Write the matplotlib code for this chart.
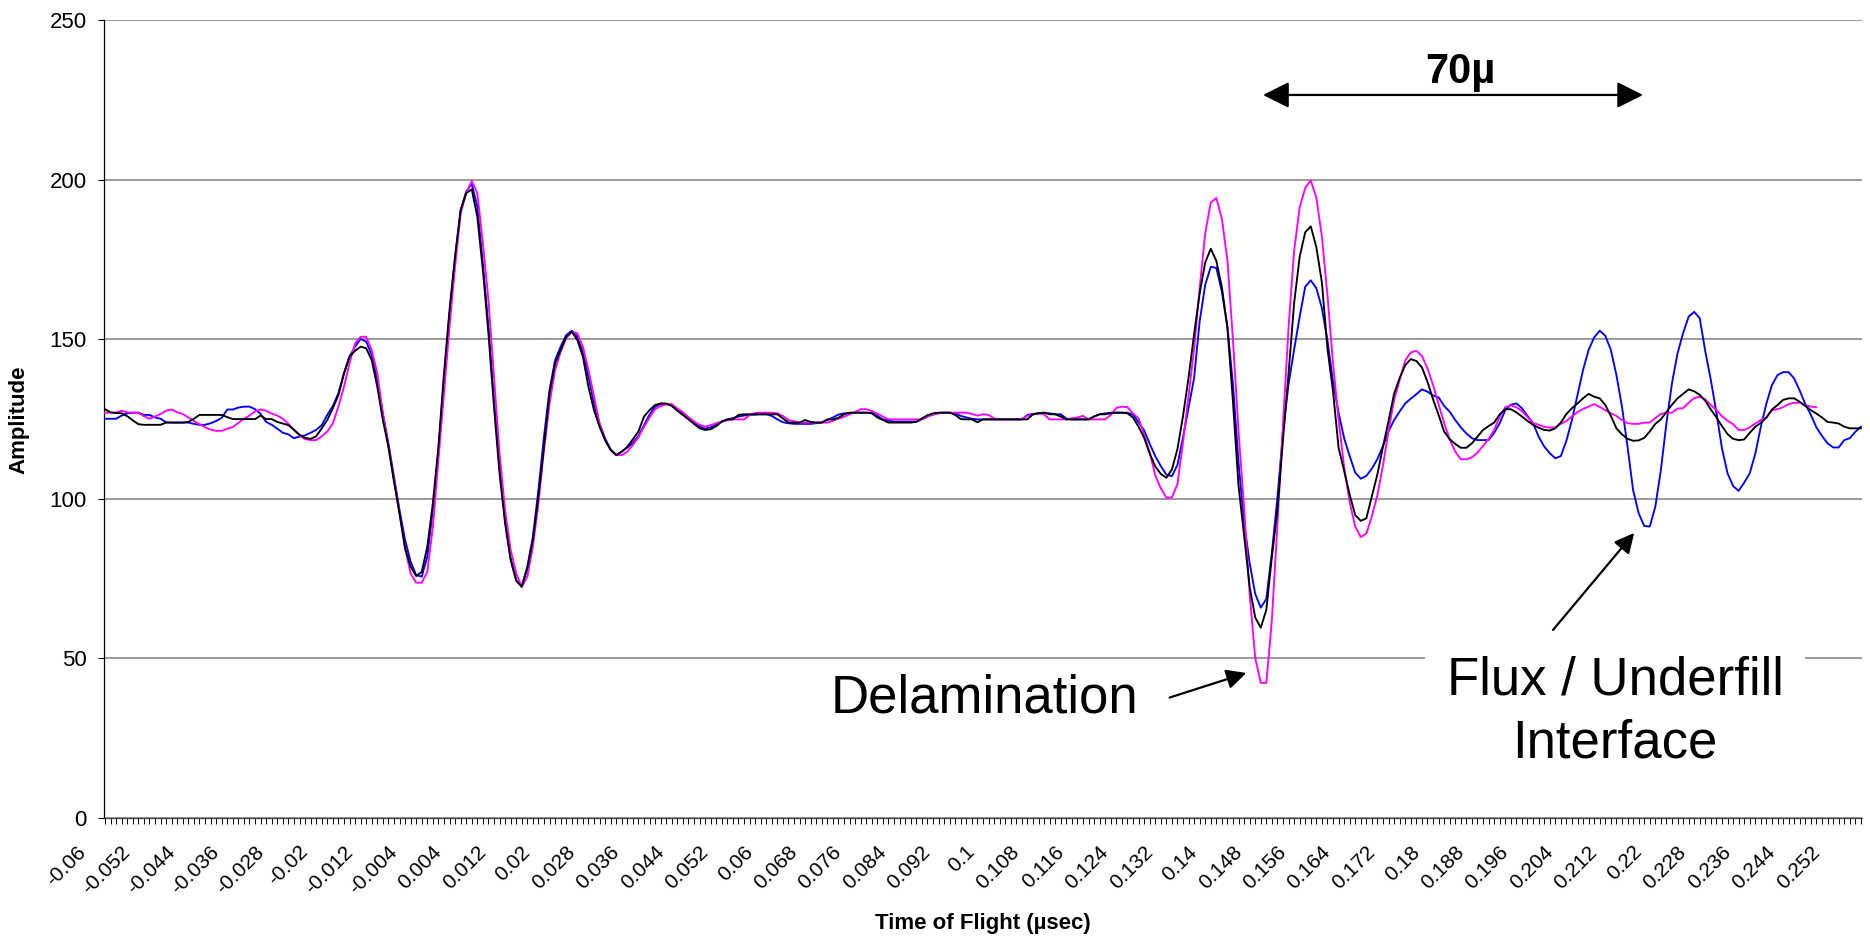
import matplotlib
matplotlib.use('Agg')
import matplotlib.pyplot as pl
import matplotlib.transforms as mtransforms
from matplotlib.patches import Rectangle
import numpy as np

# amplitude per time step (0.001 usec per category, first category -0.06)
black = [
    128.0, 127.0, 126.8, 126.7, 125.8, 124.5, 123.3, 123.1, 123.1, 123.1,
    123.1, 123.8, 123.8, 123.8, 123.8, 124.0, 125.0, 126.2, 126.2, 126.2,
    126.2, 126.2, 125.5, 124.9, 124.9, 124.9, 124.9, 124.9, 126.0, 124.9,
    124.9, 124.0, 123.5, 123.0, 121.5, 120.0, 119.0, 118.7, 119.5, 122.0,
    124.6, 128.3, 132.4, 139.2, 144.5, 146.3, 147.6, 147.1, 143.4, 135.0,
    124.6, 116.2, 105.3, 95.3, 84.4, 78.6, 75.7, 77.0, 84.9, 98.5,
    116.2, 139.2, 159.1, 175.8, 190.4, 195.7, 196.9, 188.3, 171.6, 151.8,
    128.8, 107.9, 92.2, 80.7, 74.2, 72.3, 78.1, 87.0, 100.6, 116.2,
    133.0, 142.4, 146.5, 150.7, 152.3, 149.7, 144.5, 135.0, 127.7, 122.5,
    118.3, 115.2, 113.6, 114.7, 116.2, 118.6, 121.0, 125.7, 127.7, 129.3,
    129.8, 129.8, 129.0, 127.5, 126.2, 124.8, 123.4, 122.0, 121.5, 121.7,
    122.7, 124.1, 124.8, 124.8, 126.2, 126.4, 126.4, 126.4, 126.4, 126.4,
    126.4, 126.4, 125.1, 123.8, 123.8, 123.8, 124.6, 124.0, 123.8, 123.8,
    124.8, 124.8, 125.3, 126.4, 126.9, 126.9, 126.9, 126.9, 126.7, 125.4,
    124.6, 123.8, 123.8, 123.8, 123.8, 123.8, 124.0, 125.1, 126.1, 126.7,
    126.9, 126.9, 126.9, 126.2, 124.9, 124.8, 124.8, 123.9, 124.8, 124.8,
    124.8, 124.8, 124.8, 124.8, 124.8, 124.8, 124.8, 126.4, 126.7, 126.9,
    126.4, 126.4, 125.7, 124.8, 124.8, 124.8, 124.8, 124.8, 125.7, 126.4,
    126.4, 126.7, 126.9, 126.9, 126.7, 125.4, 122.5, 119.1, 114.1, 110.1,
    107.7, 106.5, 109.1, 115.5, 125.8, 137.9, 151.5, 164.3, 174.0, 178.3,
    174.5, 166.2, 153.5, 130.1, 103.9, 88.4, 72.3, 62.7, 59.5, 65.1,
    81.8, 96.4, 118.5, 139.2, 161.2, 175.8, 183.5, 185.3, 178.8, 167.7,
    147.0, 133.6, 115.9, 108.7, 101.2, 94.8, 93.0, 93.8, 100.7, 107.7,
    116.3, 124.4, 132.9, 137.8, 141.8, 143.7, 143.1, 141.1, 136.6, 131.1,
    126.2, 121.0, 118.6, 117.1, 115.9, 115.9, 117.3, 119.4, 121.5, 122.7,
    123.8, 126.4, 128.0, 128.0, 127.0, 125.7, 124.3, 123.1, 122.2, 121.5,
    121.3, 122.0, 123.8, 126.5, 128.3, 129.8, 131.4, 132.8, 131.9, 131.4,
    129.3, 125.9, 122.0, 120.1, 118.7, 118.1, 118.2, 119.0, 121.0, 123.4,
    124.8, 127.1, 129.4, 131.4, 132.8, 134.2, 133.6, 132.5, 130.6, 127.9,
    125.4, 122.7, 120.2, 118.7, 118.3, 118.5, 120.6, 122.5, 123.7, 125.4,
    127.9, 129.3, 130.9, 131.4, 131.4, 130.3, 129.0, 127.7, 126.6, 125.4,
    124.0, 123.8, 123.5, 122.5, 122.0, 122.0, 122.0,
]

blue = [
    125.0, 125.0, 125.0, 126.0, 126.7, 126.9, 126.9, 126.2, 126.2, 125.4,
    125.0, 123.9, 123.8, 123.8, 123.8, 123.8, 123.4, 123.1, 123.1, 123.6,
    124.3, 125.3, 127.9, 127.9, 128.5, 128.8, 128.8, 128.0, 126.5, 124.0,
    123.1, 121.9, 120.6, 120.1, 118.9, 119.4, 119.8, 120.6, 121.5, 123.0,
    126.2, 129.0, 133.0, 139.2, 144.5, 147.6, 150.0, 149.2, 145.0, 137.1,
    126.7, 117.3, 106.8, 96.4, 87.0, 80.2, 76.0, 75.5, 81.8, 96.4,
    115.2, 137.1, 158.0, 175.8, 190.4, 196.2, 198.6, 191.5, 173.7, 153.9,
    130.9, 110.0, 93.2, 81.2, 74.4, 72.5, 78.6, 88.0, 102.7, 119.4,
    134.0, 143.4, 147.6, 151.2, 152.6, 150.7, 146.0, 138.2, 129.8, 123.5,
    118.8, 115.4, 113.6, 114.7, 116.0, 117.5, 119.6, 123.0, 126.3, 128.8,
    129.7, 129.6, 129.2, 128.1, 126.8, 125.4, 124.1, 122.5, 121.9, 122.3,
    123.1, 124.2, 124.8, 125.2, 125.7, 126.0, 126.2, 126.3, 126.4, 126.4,
    125.9, 124.8, 123.9, 123.6, 123.4, 123.4, 123.4, 123.4, 123.6, 123.8,
    124.6, 125.4, 126.3, 126.7, 126.8, 126.9, 126.9, 126.9, 126.9, 125.9,
    124.8, 124.4, 124.1, 124.1, 124.1, 124.1, 124.1, 124.8, 125.7, 126.3,
    126.8, 126.9, 126.9, 126.7, 125.9, 125.4, 125.0, 124.8, 124.8, 124.8,
    124.8, 124.8, 124.8, 124.8, 124.8, 124.8, 126.2, 126.5, 126.7, 126.9,
    126.7, 126.4, 126.4, 125.1, 124.8, 124.8, 124.8, 124.8, 125.7, 126.4,
    126.7, 126.9, 126.9, 126.9, 126.9, 126.3, 123.9, 121.4, 117.2, 113.3,
    110.2, 107.5, 107.0, 110.5, 119.2, 128.4, 137.8, 155.5, 167.0, 172.6,
    172.3, 164.8, 153.7, 135.6, 111.1, 92.4, 79.7, 70.1, 65.8, 68.5,
    83.1, 100.3, 120.8, 135.9, 146.7, 157.0, 166.4, 168.4, 165.9, 159.7,
    149.5, 136.6, 126.9, 118.9, 113.3, 108.1, 106.2, 107.1, 109.4, 112.4,
    116.5, 121.1, 124.6, 127.3, 129.8, 131.3, 132.7, 134.2, 133.5, 132.3,
    131.7, 129.0, 127.2, 124.6, 122.3, 120.4, 118.9, 118.3, 118.3, 118.3,
    120.6, 123.6, 127.7, 129.4, 129.8, 128.3, 125.9, 123.6, 119.4, 116.3,
    114.2, 112.6, 113.3, 118.1, 124.6, 132.4, 140.3, 146.6, 150.5, 152.6,
    151.0, 146.6, 138.7, 128.8, 116.3, 102.7, 95.4, 91.4, 91.2, 97.4,
    108.9, 123.6, 136.1, 145.5, 151.8, 157.0, 158.5, 156.5, 146.1, 137.1,
    126.9, 115.7, 107.9, 103.9, 102.4, 105.0, 107.9, 114.1, 122.5, 129.8,
    135.6, 138.7, 139.6, 139.6, 137.6, 133.8, 129.6, 126.2, 122.3, 119.6,
    117.3, 116.0, 116.0, 118.3, 118.9, 120.9, 122.5,
]

magenta = [
    126.9, 126.9, 126.9, 127.5, 127.0, 126.9, 126.9, 125.8, 125.0, 125.7,
    126.5, 127.5, 127.9, 127.0, 126.5, 125.4, 124.3, 123.3, 122.3, 121.6,
    121.2, 121.2, 121.9, 122.4, 123.7, 125.0, 126.0, 127.3, 127.9, 127.5,
    126.6, 126.0, 125.0, 123.4, 121.6, 119.8, 118.6, 118.3, 118.3, 119.5,
    121.0, 123.5, 128.8, 135.0, 142.4, 148.6, 150.7, 150.7, 146.5, 139.2,
    126.7, 116.2, 105.8, 95.3, 84.4, 76.5, 73.6, 73.6, 77.0, 91.2,
    112.1, 133.0, 153.9, 172.7, 189.4, 195.7, 199.6, 195.7, 180.0, 162.2,
    138.2, 114.1, 96.4, 83.9, 76.5, 72.3, 75.5, 84.9, 98.5, 115.2,
    129.8, 140.3, 146.0, 150.2, 152.3, 151.8, 147.6, 140.3, 131.9, 123.5,
    118.3, 115.2, 113.6, 113.6, 114.7, 116.8, 119.2, 122.5, 125.4, 128.0,
    129.0, 129.5, 129.6, 128.2, 127.0, 125.4, 124.1, 123.1, 122.5, 123.0,
    123.6, 124.1, 124.5, 124.8, 124.8, 124.8, 126.1, 126.8, 126.9, 126.9,
    126.9, 126.7, 125.9, 124.6, 124.2, 123.8, 123.8, 123.8, 123.8, 123.8,
    123.8, 124.4, 125.0, 125.6, 126.4, 127.1, 128.0, 128.0, 127.4, 126.6,
    125.7, 124.8, 124.8, 124.8, 124.8, 124.8, 124.8, 124.8, 125.7, 126.4,
    126.7, 126.9, 126.9, 126.9, 126.9, 126.9, 126.5, 126.0, 126.4, 126.2,
    125.1, 124.8, 124.8, 124.8, 124.8, 124.8, 125.9, 126.3, 126.7, 126.4,
    124.8, 124.8, 124.8, 124.8, 125.1, 125.4, 125.9, 124.8, 124.8, 124.8,
    124.8, 126.2, 128.4, 128.8, 128.6, 126.7, 125.1, 120.0, 114.5, 107.3,
    103.2, 100.3, 100.3, 104.5, 117.6, 132.3, 146.9, 165.9, 183.2, 192.8,
    194.2, 187.7, 174.5, 149.5, 120.9, 97.1, 70.0, 50.0, 42.2, 42.2,
    62.0, 92.0, 123.3, 153.7, 177.7, 191.3, 197.4, 199.7, 194.3, 182.1,
    163.7, 142.4, 124.7, 109.8, 98.8, 91.2, 87.9, 89.0, 94.5, 101.2,
    110.5, 121.3, 130.9, 137.2, 143.3, 145.8, 146.3, 144.7, 140.8, 135.6,
    129.5, 123.6, 118.5, 114.7, 112.3, 112.3, 112.9, 114.4, 116.5, 118.6,
    121.5, 125.7, 128.6, 129.2, 128.6, 127.4, 125.5, 123.7, 123.1, 122.5,
    122.2, 122.3, 123.4, 124.3, 125.7, 127.1, 128.1, 128.8, 129.6, 128.7,
    127.7, 126.7, 125.9, 124.6, 123.6, 123.4, 123.4, 123.8, 123.8, 125.2,
    126.5, 126.9, 126.9, 128.2, 128.3, 130.0, 131.5, 131.9, 131.1, 129.3,
    127.7, 125.8, 124.4, 123.3, 121.5, 121.5, 122.3, 123.5, 124.6, 125.4,
    127.7, 128.0, 128.6, 129.6, 130.0, 130.0, 129.3, 128.8, 128.6,
]

tick_labels = [
    '-0.06', '-0.052', '-0.044', '-0.036', '-0.028', '-0.02', '-0.012',
    '-0.004', '0.004', '0.012', '0.02', '0.028', '0.036', '0.044', '0.052',
    '0.06', '0.068', '0.076', '0.084', '0.092', '0.1', '0.108', '0.116',
    '0.124', '0.132', '0.14', '0.148', '0.156', '0.164', '0.172', '0.18',
    '0.188', '0.196', '0.204', '0.212', '0.22', '0.228', '0.236', '0.244',
    '0.252',
]
label_every = 8
y_ticks = [0, 50, 100, 150, 200, 250]


def main():
    pl.rcParams['font.family'] = ['Liberation Sans', 'DejaVu Sans']

    fig = pl.figure(figsize=(18.7, 9.38), dpi=100)
    W, H = 1870.0, 938.0
    ax = fig.add_axes([104.3 / W, (H - 817.5) / H, 1757.7 / W, 797.5 / H])

    ax.plot(np.arange(len(blue)), blue, color='#0000ff', lw=1.35, zorder=3)
    ax.plot(np.arange(len(magenta)), magenta, color='#ff00ff', lw=1.35, zorder=4)
    ax.plot(np.arange(len(black)), black, color='black', lw=1.35, zorder=5)

    ax.set_xlim(-0.13, 316.2)
    ax.set_ylim(0, 250)

    ax.set_yticks(y_ticks)
    ax.set_yticklabels([str(v) for v in y_ticks], fontsize=16)
    ax.yaxis.grid(True, color='#808080', lw=1.1)
    ax.set_axisbelow(True)
    ax.tick_params(axis='y', length=4.5, width=0.8, pad=8)

    ax.set_xticks(np.arange(len(tick_labels)) * label_every)
    ax.set_xticks(np.arange(len(black)), minor=True)
    ax.set_xticklabels(tick_labels, fontsize=15, rotation=45, ha='right',
                       va='center', rotation_mode='anchor')
    ax.tick_params(axis='x', which='both', length=4, width=0.7, pad=3.5)
    offset = mtransforms.ScaledTranslation(-0.22, -0.21, fig.dpi_scale_trans)
    for label in ax.get_xticklabels():
        label.set_transform(label.get_transform() + offset)

    for side in ['top', 'right']:
        ax.spines[side].set_visible(False)
    ax.spines['left'].set_linewidth(0.9)
    ax.spines['bottom'].set_linewidth(0.9)
    ax.spines['bottom'].set_color('#404040')

    fig.text(19 / W, 1 - 420 / H, 'Amplitude', rotation=90, fontsize=16,
             fontweight='bold', ha='center', va='center')
    fig.text(983 / W, 1 - 923 / H, 'Time of Flight (µsec)', fontsize=16,
             fontweight='bold', ha='center', va='center')

    # 70 micron marker
    ax.annotate('', xy=(276.8, 226.5), xytext=(208.4, 226.5),
                arrowprops=dict(arrowstyle='<|-|>', mutation_scale=40, lw=1.6,
                                color='black', shrinkA=0, shrinkB=0))
    ax.text(243.9, 230.3, '70µ', fontsize=30, fontweight='bold',
            ha='center', va='baseline')

    # delamination note
    ax.text(158.2, 32.8, 'Delamination', fontsize=38, ha='center', va='baseline')
    ax.annotate('', xy=(205.4, 45.3), xytext=(191.6, 37.6),
                arrowprops=dict(arrowstyle='-|>', mutation_scale=30, lw=1.6,
                                color='black', shrinkA=0, shrinkB=0))

    # flux / underfill note on a white box
    ax.add_patch(Rectangle((237.6, 11.8), 68.4, 43.8, facecolor='white',
                           edgecolor='none', zorder=1.5))
    ax.text(271.8, 38.5, 'Flux / Underfill', fontsize=38, ha='center',
            va='baseline', zorder=6)
    ax.text(271.8, 18.7, 'Interface', fontsize=38, ha='center',
            va='baseline', zorder=6)
    ax.annotate('', xy=(275.2, 89.2), xytext=(260.6, 58.8),
                arrowprops=dict(arrowstyle='-|>', mutation_scale=30, lw=1.6,
                                color='black', shrinkA=0, shrinkB=0))

    fig.savefig('out.png', dpi=100)


if __name__ == '__main__':
    main()
